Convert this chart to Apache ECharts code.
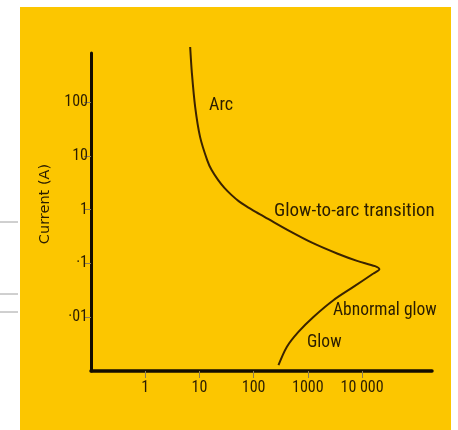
<!DOCTYPE html>
<html>
<head>
<meta charset="utf-8">
<script src="https://cdn.jsdelivr.net/npm/echarts@6/dist/echarts.min.js"></script>
<style>
  html, body { margin: 0; padding: 0; background: #ffffff; }
  #chart { width: 458px; height: 430px; }
</style>
</head>
<body>
<div id="chart"></div>
<script>
// Discharge characteristic: current against voltage (both on log scales)
const voltage = [6.75, 7.26, 8.35, 10.3, 13.9, 16.8, 22.2, 29.2, 39.3, 52.9, 72.7, 111, 181, 491, 1276, 3459, 8090, 17370, 20840, 16150, 6915, 2958, 1266, 670, 409, 287];
const current = [1055, 346, 80.7, 22.3, 8.34, 5.43, 3.54, 2.51, 1.86, 1.44, 1.16, 0.899, 0.680, 0.386, 0.235, 0.153, 0.1115, 0.0889, 0.0782, 0.065, 0.0366, 0.0207, 0.0101, 0.00533, 0.0028, 0.00128];

const xTickValues = [1, 10, 100, 1000, 10000];
const xTickLabels = ['1', '10', '100', '1000', '10 000'];
const yTickValues = [0.01, 0.1, 1, 10, 100];
const yTickLabels = ['\u00b701', '\u00b71', '1', '10', '100'];

const regionNames = ['Arc', 'Glow-to-arc transition', 'Abnormal glow', 'Glow'];

const ink = '#2b1d00';
const tickGrey = '#8c7c55';
const narrow = '"Liberation Sans Narrow", "Roboto Condensed", Roboto, sans-serif';
const wide = '"DejaVu Sans", Roboto, sans-serif';

function lookup(values, labels, v) {
  for (let i = 0; i < values.length; i++) {
    if (Math.abs(Math.log10(v) - Math.log10(values[i])) < 1e-6) return labels[i];
  }
  return '';
}

const chart = echarts.init(document.getElementById('chart'), null, { renderer: 'canvas' });

chart.setOption({
  animation: false,
  backgroundColor: '#ffffff',
  grid: { left: 91, right: 26, top: 53, bottom: 59 },
  xAxis: {
    type: 'log',
    logBase: 10,
    min: 0.1,
    max: 195000,
    axisLine: { show: true, lineStyle: { color: '#140d00', width: 3.5 } },
    axisTick: { show: true, length: 7, customValues: xTickValues, lineStyle: { color: tickGrey, width: 1 } },
    axisLabel: {
      customValues: xTickValues,
      margin: 9,
      color: ink, fontFamily: narrow, fontSize: 16,
      formatter: v => lookup(xTickValues, xTickLabels, v)
    },
    splitLine: { show: false },
    minorTick: { show: false }
  },
  yAxis: {
    type: 'log',
    logBase: 10,
    min: 0.001,
    max: 816,
    name: 'Current (A)',
    nameLocation: 'middle',
    nameRotate: 90,
    nameGap: 38,
    nameTextStyle: { color: ink, fontFamily: wide, fontSize: 14.5, padding: [0, 0, 0, 16] },
    axisLine: { show: true, lineStyle: { color: '#140d00', width: 3 } },
    axisTick: { show: true, length: 7, customValues: yTickValues, lineStyle: { color: tickGrey, width: 1 } },
    axisLabel: {
      customValues: yTickValues,
      margin: 3,
      color: ink, fontFamily: narrow, fontSize: 16,
      formatter: v => lookup(yTickValues, yTickLabels, v)
    },
    splitLine: { show: false },
    minorTick: { show: false }
  },
  graphic: [
    // yellow card
    { type: 'rect', z: -100, shape: { x: 20, y: 7, width: 431, height: 430 }, style: { fill: '#fcc600' } },
    // faint rules on the white margin
    { type: 'line', z: -90, shape: { x1: 0, y1: 222, x2: 18, y2: 222 }, style: { stroke: '#a0a0a0', lineWidth: 1 } },
    { type: 'line', z: -90, shape: { x1: 0, y1: 294, x2: 18, y2: 294 }, style: { stroke: '#a0a0a0', lineWidth: 1 } },
    { type: 'line', z: -90, shape: { x1: 0, y1: 312, x2: 18, y2: 312 }, style: { stroke: '#a0a0a0', lineWidth: 1 } },
    // region names along the curve
    { type: 'text', z: 10, x: 209, y: 105, style: { text: regionNames[0], fill: ink, font: '18px ' + narrow, textVerticalAlign: 'middle' } },
    { type: 'text', z: 10, x: 274, y: 211, style: { text: regionNames[1], fill: ink, font: '19px ' + narrow, textVerticalAlign: 'middle' } },
    { type: 'text', z: 10, x: 333, y: 311, style: { text: regionNames[2], fill: ink, font: '17.5px ' + narrow, textVerticalAlign: 'middle' } },
    { type: 'text', z: 10, x: 307, y: 343, style: { text: regionNames[3], fill: ink, font: '17.5px ' + narrow, textVerticalAlign: 'middle' } }
  ],
  series: [{
    type: 'line',
    data: voltage.map((v, i) => [v, current[i]]),
    smooth: 0.3,
    clip: false,
    showSymbol: false,
    lineStyle: { color: '#3a2300', width: 2 }
  }]
});
</script>
</body>
</html>
